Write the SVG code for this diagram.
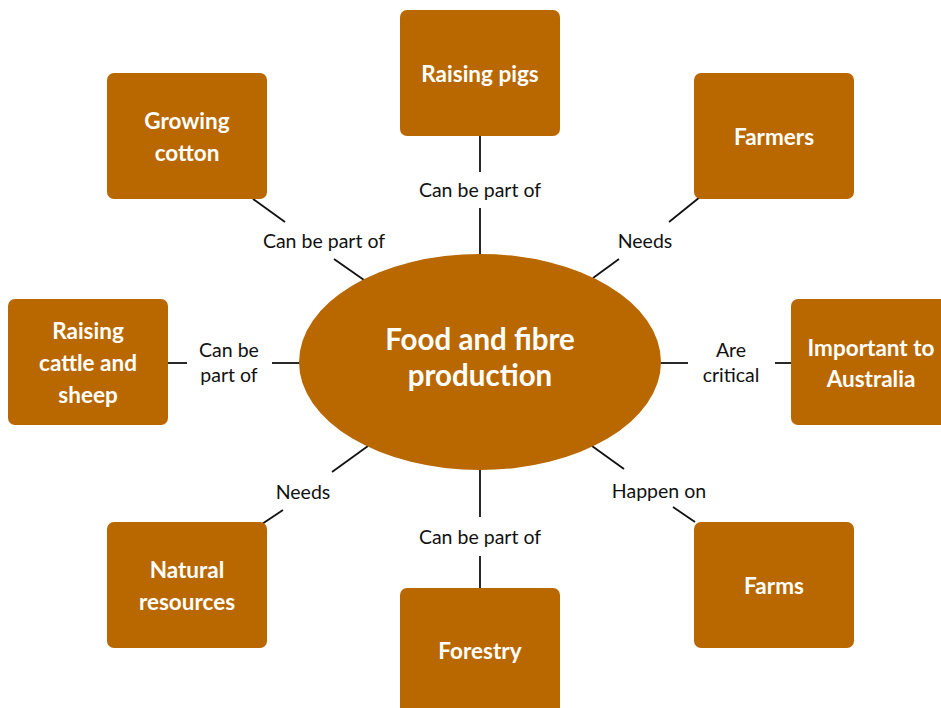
<svg xmlns="http://www.w3.org/2000/svg" width="941" height="708" viewBox="0 0 941 708">
<style>
.box{fill:#B96800}
.bt{font-family:Lato,"Open Sans",sans-serif;font-weight:bold;font-size:22.5px;fill:#fff;text-anchor:middle}
.tt{font-family:Lato,"Open Sans",sans-serif;font-weight:bold;font-size:29.5px;fill:#fff;text-anchor:middle}
.lb{font-family:Lato,"Open Sans",sans-serif;font-size:19.5px;fill:#111;text-anchor:middle}
.ln{stroke:#111;stroke-width:1.8;fill:none}
</style>
<rect width="941" height="708" fill="#fff"/>
<g id="connectors">
<line class="ln" x1="480" y1="136" x2="480" y2="172"/>
<line class="ln" x1="480" y1="208" x2="480" y2="255"/>
<line class="ln" x1="253" y1="199" x2="285" y2="222"/>
<line class="ln" x1="334" y1="259" x2="364" y2="280"/>
<line class="ln" x1="700" y1="197" x2="669" y2="222"/>
<line class="ln" x1="619" y1="259" x2="593" y2="278"/>
<line class="ln" x1="168" y1="363" x2="187" y2="363"/>
<line class="ln" x1="272" y1="363" x2="300" y2="363"/>
<line class="ln" x1="660" y1="363" x2="688" y2="363"/>
<line class="ln" x1="775" y1="363" x2="791" y2="363"/>
<line class="ln" x1="368" y1="446" x2="332" y2="472"/>
<line class="ln" x1="283" y1="510" x2="262" y2="524"/>
<line class="ln" x1="592" y1="446" x2="624" y2="469"/>
<line class="ln" x1="673" y1="507" x2="695" y2="522"/>
<line class="ln" x1="480" y1="468" x2="480" y2="517"/>
<line class="ln" x1="480" y1="556" x2="480" y2="588"/>
<text class="lb" x="480" y="197">Can be part of</text>
<text class="lb" x="324" y="248">Can be part of</text>
<text class="lb" x="645" y="248">Needs</text>
<text class="lb" x="229" y="357">Can be</text>
<text class="lb" x="229" y="382">part of</text>
<text class="lb" x="731" y="357">Are</text>
<text class="lb" x="731" y="382">critical</text>
<text class="lb" x="303" y="499">Needs</text>
<text class="lb" x="659" y="498">Happen on</text>
<text class="lb" x="480" y="544">Can be part of</text>
</g>
<g id="center">
<ellipse class="box" cx="480" cy="362" rx="181" ry="108"/>
<text class="tt" x="480" y="350">Food and fibre</text>
<text class="tt" x="480" y="386">production</text>
</g>
<g id="pigs">
<rect class="box" x="400" y="10" width="160" height="126" rx="7"/>
<text class="bt" x="480" y="82">Raising pigs</text>
</g>
<g id="cotton">
<rect class="box" x="107" y="73" width="160" height="126" rx="7"/>
<text class="bt" x="187" y="129">Growing</text>
<text class="bt" x="187" y="161">cotton</text>
</g>
<g id="farmers">
<rect class="box" x="694" y="73" width="160" height="126" rx="7"/>
<text class="bt" x="774" y="145">Farmers</text>
</g>
<g id="cattle">
<rect class="box" x="8" y="299" width="160" height="126" rx="7"/>
<text class="bt" x="88" y="339">Raising</text>
<text class="bt" x="88" y="371">cattle and</text>
<text class="bt" x="88" y="403">sheep</text>
</g>
<g id="australia">
<rect class="box" x="791" y="299" width="160" height="126" rx="7"/>
<text class="bt" x="871" y="356">Important to</text>
<text class="bt" x="871" y="387">Australia</text>
</g>
<g id="resources">
<rect class="box" x="107" y="522" width="160" height="126" rx="7"/>
<text class="bt" x="187" y="578">Natural</text>
<text class="bt" x="187" y="610">resources</text>
</g>
<g id="farms">
<rect class="box" x="694" y="522" width="160" height="126" rx="7"/>
<text class="bt" x="774" y="594">Farms</text>
</g>
<g id="forestry">
<rect class="box" x="400" y="588" width="160" height="126" rx="7"/>
<text class="bt" x="480" y="659">Forestry</text>
</g>
</svg>
